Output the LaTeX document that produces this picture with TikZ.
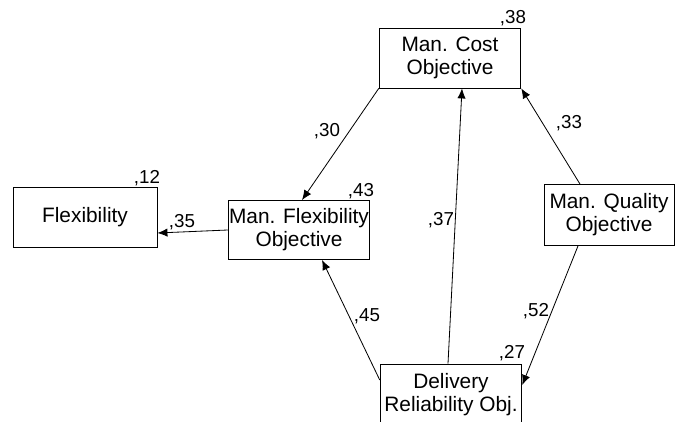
\documentclass[tikz,border=0pt]{standalone}
\usepackage{fontspec}
\setmainfont{Liberation Sans}
\usetikzlibrary{arrows.meta,positioning,calc}

\begin{document}
\begin{tikzpicture}[
    x=0.03cm, y=-0.03cm,
    box/.style={rectangle, draw, line width=0.7pt, align=center, inner sep=0pt,
        minimum width=4.25cm, minimum height=1.8cm, font=\fontsize{17.8}{19.5}\selectfont},
    coef/.style={inner sep=0pt, font=\fontsize{16}{16}\selectfont},
    path/.style={line width=0.7pt, -{Latex[length=3mm,width=2.5mm]}}
]
\useasboundingbox (0,0) rectangle (676,421);
\clip (0,0) rectangle (676,421);

% Main blocks
\node[box] (cost) at (450,58) {Man. Cost\\Objective};
\node[box, minimum width=4.32cm] (flex) at (85,217) {Flexibility};
\node[box, minimum height=1.77cm] (mflex) at (299,230) {Man. Flexibility\\Objective};
\node[box, minimum width=3.9cm, minimum height=1.83cm] (qual) at (609,215) {Man. Quality\\Objective};
\node[box, minimum height=1.86cm] (deliv) at (451,395) {Delivery\\Reliability Obj.};

% Arrows
\draw[path] (cost.south west) -- ($(mflex.north)+(3,0)$);
\draw[path] (mflex.west) -- ($(flex.east)+(0,16)$);
\draw[path] ($(deliv.west)+(0,-15)$) -- ($(mflex.south)+(23,0)$);
\draw[path] ($(deliv.north)+(-3,0)$) -- ($(cost.south)+(12,0)$);
\draw[path] ($(qual.north)+(-29,0)$) -- (cost.south east);
\draw[path] ($(qual.south)+(-31,0)$) -- ($(deliv.east)+(0,-10)$);

% Squared multiple correlations
\node[coef] (r38) at (513,18) {,38};
\node[coef] (r12) at (147,178) {,12};
\node[coef] (r43) at (361,191) {,43};
\node[coef] (r27) at (512,353) {,27};

% Path weights
\node[coef] (w30) at (327,131) {,30};
\node[coef] (w35) at (182,222) {,35};
\node[coef] (w37) at (441,220) {,37};
\node[coef] (w33) at (569,123) {,33};
\node[coef] (w45) at (367,316) {,45};
\node[coef] (w52) at (536,311) {,52};

\end{tikzpicture}
\end{document}
